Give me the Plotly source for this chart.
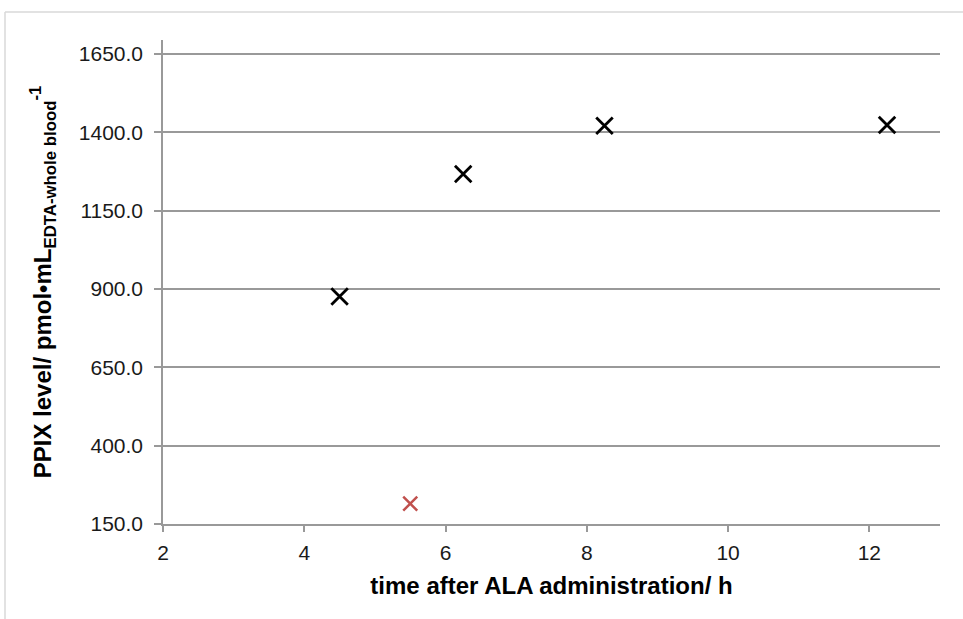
import plotly.graph_objects as go

# Data
time_h = [4.5, 6.25, 8.25, 12.25]
ppix_level = [876, 1267, 1421, 1424]
control_time_h = [5.5]
control_level = [215]

y_ticks = [150, 400, 650, 900, 1150, 1400, 1650]
x_ticks = [2, 4, 6, 8, 10, 12]

W, H = 963, 619
L, R, T, B = 163, 23, 40, 95

fig = go.Figure()
fig.add_trace(go.Scatter(
    x=time_h, y=ppix_level, mode="markers",
    marker=dict(symbol="x-thin", size=16.5, color="black",
                line=dict(color="black", width=2.8)),
    showlegend=False, cliponaxis=False))
fig.add_trace(go.Scatter(
    x=control_time_h, y=control_level, mode="markers",
    marker=dict(symbol="x-thin", size=14, color="#c0504d",
                line=dict(color="#c0504d", width=2.5)),
    showlegend=False, cliponaxis=False))

axis_color = "#999999"
fig.update_layout(
    width=W, height=H,
    margin=dict(l=L, r=R, t=T, b=B),
    paper_bgcolor="white", plot_bgcolor="white",
    font=dict(family="Liberation Sans, Arial, sans-serif", color="#000000"),
    xaxis=dict(
        range=[2, 13], tickvals=x_ticks, ticktext=[str(v) for v in x_ticks],
        showgrid=False, zeroline=False,
        showline=True, linecolor=axis_color, linewidth=1.5,
        ticks="outside", ticklen=6, tickcolor=axis_color, tickwidth=1.5,
        ticklabelstandoff=3,
        tickfont=dict(size=21, color="#1a1a1a"),
        title=dict(text="<b>time after ALA administration/ h</b>",
                   font=dict(size=24), standoff=14),
    ),
    yaxis=dict(
        range=[150, 1695], tickvals=y_ticks,
        ticktext=[f"{v:.1f}" for v in y_ticks],
        showgrid=True, gridcolor=axis_color, gridwidth=1.5, zeroline=False,
        showline=True, linecolor=axis_color, linewidth=1.5,
        ticks="outside", ticklen=7, tickcolor=axis_color, tickwidth=1.5,
        ticklabelstandoff=7,
        tickfont=dict(size=21, color="#1a1a1a"),
        title=dict(text="<b>PPIX level/ pmol•mL<sub>EDTA-whole blood</sub><sup>-1</sup></b>",
                   font=dict(size=24), standoff=20),
    ),
)

# light frame around the chart (left and top edges)
pw = W - L - R
ph = H - T - B
fig.add_shape(type="line", xref="paper", yref="paper",
              x0=(5 - L) / pw, x1=(W - L) / pw,
              y0=(H - B - 12) / ph, y1=(H - B - 12) / ph,
              line=dict(color="#d9d9d9", width=1.5))
fig.add_shape(type="line", xref="paper", yref="paper",
              x0=(5 - L) / pw, x1=(5 - L) / pw,
              y0=(H - B - 12) / ph, y1=-B / ph,
              line=dict(color="#d9d9d9", width=1.5))

fig.write_html("out.html",
               config={"displayModeBar": False},
               post_script="document.body.style.margin='0px';document.body.style.overflow='hidden';")
